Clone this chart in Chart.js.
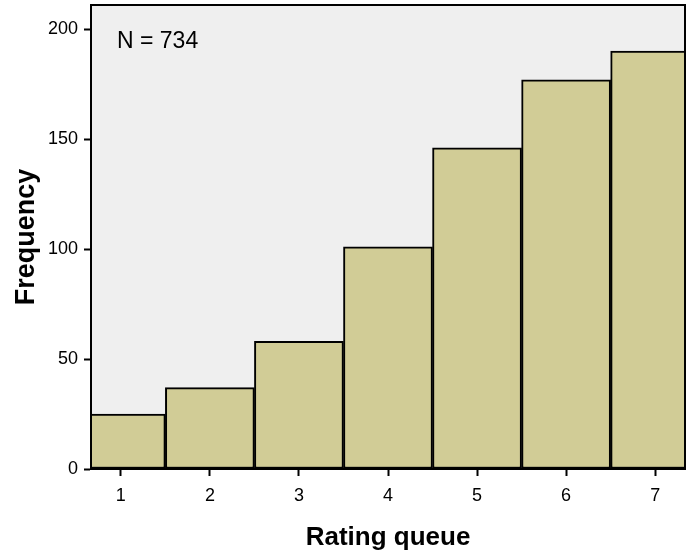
<!DOCTYPE html>
<html>
<head>
    <script src="https://cdn.jsdelivr.net/npm/chart.js@4.4.1/dist/chart.umd.min.js"></script>
    <style>
        body { margin: 0; background: #ffffff; }
        #wrap { width: 695px; height: 557px; }
    </style>
    <title>Rating queue histogram</title>
</head>
<body>
<div id="wrap"><canvas id="myChart"></canvas></div>
<script>
    // histogram bins (rating 1..7) and counts
    var ratings = [1, 2, 3, 4, 5, 6, 7];
    var frequency = [25, 37, 58, 101, 146, 177, 190];
    var yTicks = [0, 50, 100, 150, 200];
    var nLabel = 'N = 734';

    var font = "'Liberation Sans', Arial, sans-serif";

    // plot background, frame and the N label
    var framePlugin = {
        id: 'frame',
        beforeDatasetsDraw: function (chart) {
            var a = chart.chartArea, c = chart.ctx;
            c.save();
            c.fillStyle = '#efefef';
            c.fillRect(a.left, a.top, a.right - a.left, a.bottom - a.top);
            c.fillStyle = '#000';
            c.font = '23px ' + font;
            c.textBaseline = 'alphabetic';
            c.fillText(nLabel, a.left + 26, a.top + 43);
            c.restore();
        },
        afterDatasetsDraw: function (chart) {
            var a = chart.chartArea, c = chart.ctx;
            c.save();
            c.strokeStyle = '#000';
            c.lineWidth = 2;
            c.strokeRect(a.left, a.top, a.right - a.left, a.bottom - a.top);
            c.restore();
        }
    };

    var ctx = document.getElementById('myChart').getContext('2d');
    var myChart = new Chart(ctx, {
        type: 'bar',
        data: {
            datasets: [{
                data: ratings.map(function (r, i) { return { x: r, y: frequency[i] }; }),
                backgroundColor: '#d1cc96',
                borderColor: '#000000',
                borderWidth: 2,
                borderSkipped: false,
                barPercentage: 1.0,
                categoryPercentage: 1.0
            }]
        },
        options: {
            responsive: true,
            maintainAspectRatio: false,
            animation: false,
            layout: { padding: { top: 5, right: 10, left: 0, bottom: 0 } },
            plugins: {
                legend: { display: false },
                tooltip: { enabled: false }
            },
            scales: {
                x: {
                    type: 'linear',
                    offset: false,
                    min: 0.665,
                    max: 7.335,
                    grid: { offset: false, drawOnChartArea: false, tickLength: 7, tickColor: '#000', tickWidth: 2 },
                    border: { display: true, color: '#000', width: 2 },
                    afterBuildTicks: function (s) {
                        s.ticks = ratings.map(function (v) { return { value: v }; });
                    },
                    ticks: {
                        color: '#000',
                        font: { family: font, size: 18 },
                        padding: 9,
                        maxRotation: 0,
                        callback: function (v) { return v; }
                    },
                    title: {
                        display: true,
                        text: 'Rating queue',
                        color: '#000',
                        font: { family: font, size: 26, weight: 'bold' },
                        padding: { top: 10, bottom: 4 }
                    },
                    afterFit: function (s) {
                        s.height = 88;
                        s.paddingLeft = 0;
                        s.paddingRight = 0;
                    }
                },
                y: {
                    min: 0,
                    max: 211,
                    grid: { drawOnChartArea: false, tickLength: 7, tickColor: '#000', tickWidth: 2 },
                    border: { display: true, color: '#000', width: 2 },
                    afterBuildTicks: function (s) {
                        s.ticks = yTicks.map(function (v) { return { value: v }; });
                    },
                    ticks: {
                        color: '#000',
                        font: { family: font, size: 18 },
                        padding: 6
                    },
                    title: {
                        display: true,
                        text: 'Frequency',
                        color: '#000',
                        font: { family: font, size: 27, weight: 'bold' },
                        padding: { top: 10, bottom: 8 }
                    },
                    afterFit: function (s) {
                        s.width = 91;
                        s.paddingTop = 0;
                        s.paddingBottom = 0;
                    }
                }
            }
        },
        plugins: [framePlugin]
    });
</script>
</body>
</html>
